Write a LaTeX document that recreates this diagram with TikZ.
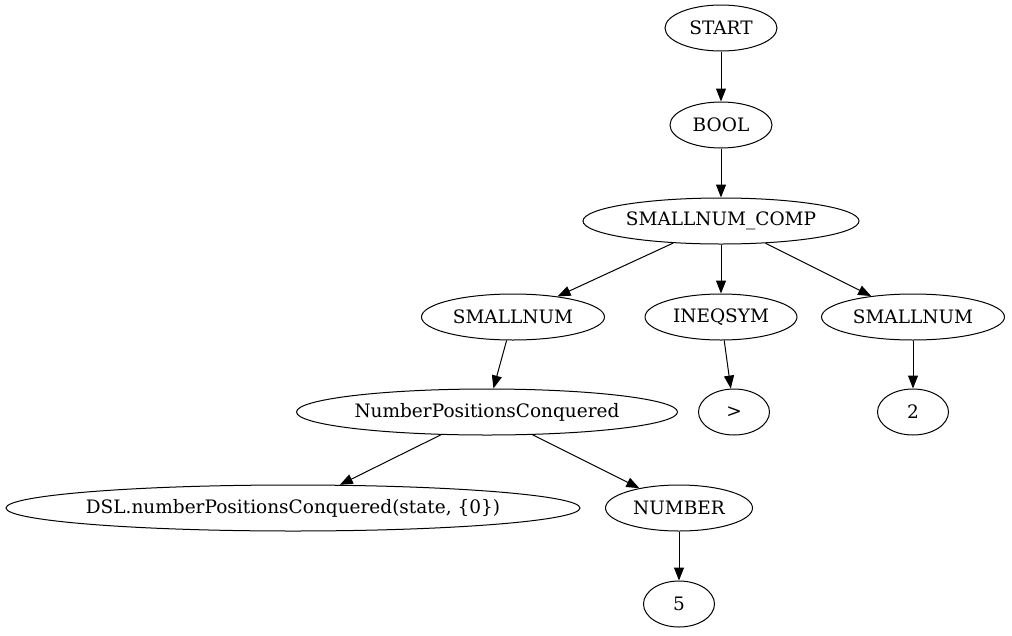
\documentclass[tikz,border=0pt]{standalone}
\usepackage{fontspec}
\setmainfont{DejaVu Serif}
\usetikzlibrary{shapes.geometric, arrows.meta}
\newcommand{\gvlbl}[1]{\makebox[0pt]{#1}}

\begin{document}
\begin{tikzpicture}[
    x=1pt, y=-1pt,
    gvnode/.style={ellipse, draw, line width=1pt, inner sep=0pt, minimum height=46pt, font=\fontsize{18.5}{22}\selectfont},
    gvedge/.style={draw, line width=1pt, -{Triangle[length=13pt, width=10pt]}}
]
    \useasboundingbox (0,0) rectangle (1012,635);

    % Top chain
    \node[gvnode, minimum width=112pt] (start) at (721,28) {\gvlbl{START}};
    \node[gvnode, minimum width=102pt] (bool) at (721,125) {\gvlbl{BOOL}};
    \node[gvnode, minimum width=276pt] (comp) at (721,221) {\gvlbl{SMALLNUM\_COMP}};

    % Comparison operands
    \node[gvnode, minimum width=183pt] (numl) at (513,317) {\gvlbl{SMALLNUM}};
    \node[gvnode, minimum width=152pt] (ineq) at (721,317) {\gvlbl{INEQSYM}};
    \node[gvnode, minimum width=183pt] (numr) at (913,317) {\gvlbl{SMALLNUM}};

    % Leaves of the operands
    \node[gvnode, minimum width=381pt] (npc) at (487,412) {\gvlbl{NumberPositionsConquered}};
    \node[gvnode, minimum width=71pt] (gt) at (734,412) {\gvlbl{>}};
    \node[gvnode, minimum width=71pt] (two) at (913,412) {\gvlbl{2}};

    % Function call and argument
    \node[gvnode, minimum width=574pt] (dsl) at (293,508) {\gvlbl{DSL.numberPositionsConquered(state, \{0\})}};
    \node[gvnode, minimum width=147pt] (number) at (679,508) {\gvlbl{NUMBER}};
    \node[gvnode, minimum width=71pt] (five) at (679,604) {\gvlbl{5}};

    % Edges
    \foreach \a/\b in {start/bool, bool/comp, comp/numl, comp/ineq, comp/numr,
                       numl/npc, ineq/gt, numr/two, npc/dsl, npc/number, number/five} {
        \path[gvedge] (\a) -- (\b);
    }
\end{tikzpicture}
\end{document}
